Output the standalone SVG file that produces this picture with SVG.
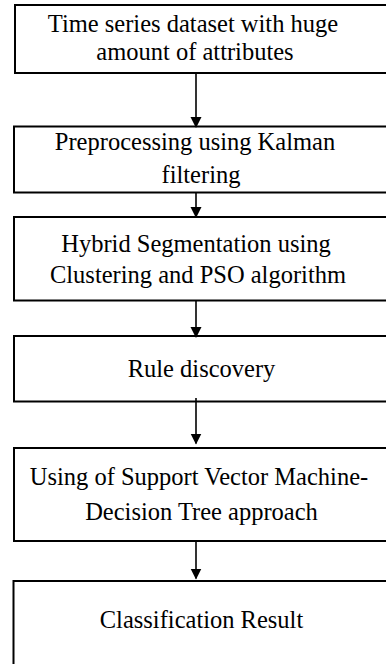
<svg xmlns="http://www.w3.org/2000/svg" width="386" height="664" viewBox="0 0 386 664">
  <style>
    .box { fill: #ffffff; stroke: #000000; stroke-width: 2; }
    .lbl { font-family: "Liberation Serif", "Times New Roman", serif; font-size: 24.5px; fill: #000000; text-anchor: middle; }
    .conn { stroke: #000000; stroke-width: 1.6; fill: none; }
  </style>
  <defs>
    <marker id="arrow" markerUnits="userSpaceOnUse" markerWidth="12" markerHeight="13" refX="10" refY="5.5" orient="auto">
      <path d="M0,0 L11,5.5 L0,11 Z" fill="#000000"/>
    </marker>
  </defs>
  <rect x="0" y="0" width="386" height="664" fill="#ffffff"/>

  <g id="node-dataset">
    <rect class="box" x="15" y="5" width="390" height="68"/>
    <text class="lbl" x="193" y="31.5">Time series dataset with huge</text>
    <text class="lbl" x="195" y="59.5">amount of attributes</text>
  </g>

  <g id="node-preprocessing">
    <rect class="box" x="14" y="126.5" width="390" height="66"/>
    <text class="lbl" x="195" y="149.5">Preprocessing using Kalman</text>
    <text class="lbl" x="201" y="183">filtering</text>
  </g>

  <g id="node-segmentation">
    <rect class="box" x="14" y="217" width="390" height="83.5"/>
    <text class="lbl" x="196" y="251.5">Hybrid Segmentation using</text>
    <text class="lbl" x="198" y="283">Clustering and PSO algorithm</text>
  </g>

  <g id="node-rules">
    <rect class="box" x="14" y="336" width="390" height="65.5"/>
    <text class="lbl" x="201.5" y="376.5">Rule discovery</text>
  </g>

  <g id="node-svm-dt">
    <rect class="box" x="14" y="448" width="390" height="93"/>
    <text class="lbl" x="199" y="485">Using of Support Vector Machine-</text>
    <text class="lbl" x="201.5" y="519.5">Decision Tree approach</text>
  </g>

  <g id="node-result">
    <rect class="box" x="13.5" y="581" width="390" height="100"/>
    <text class="lbl" x="201.5" y="628">Classification Result</text>
  </g>

  <g id="connectors">
    <line class="conn" x1="196" y1="73" x2="196" y2="127" marker-end="url(#arrow)"/>
    <line class="conn" x1="196" y1="192.5" x2="196" y2="217" marker-end="url(#arrow)"/>
    <line class="conn" x1="196" y1="300.5" x2="196" y2="337" marker-end="url(#arrow)"/>
    <line class="conn" x1="196" y1="398" x2="196" y2="443.5" marker-end="url(#arrow)"/>
    <line class="conn" x1="196" y1="541" x2="196" y2="578.5" marker-end="url(#arrow)"/>
  </g>
</svg>
